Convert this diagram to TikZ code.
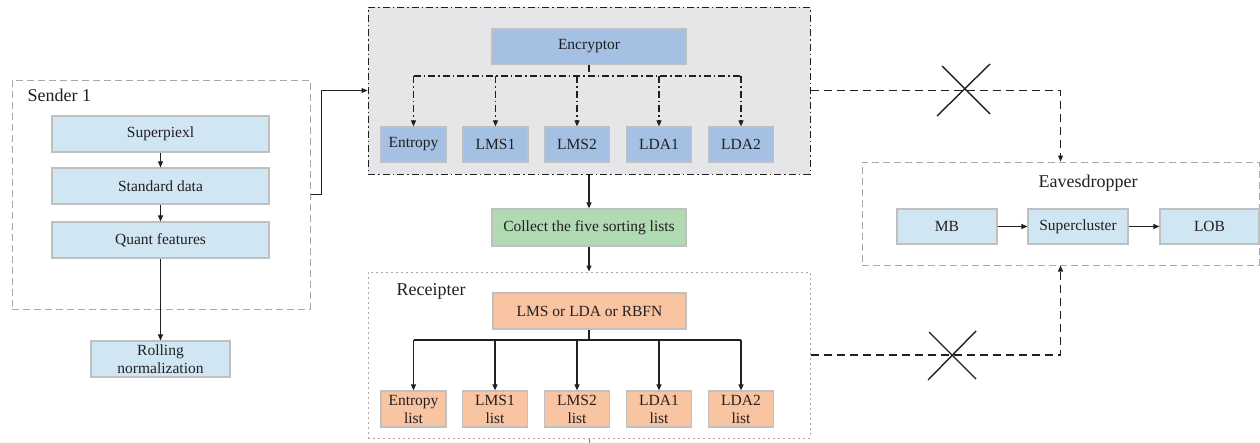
\documentclass[tikz,border=0pt]{standalone}
\usepackage{fontspec}
\setmainfont{Liberation Serif}
\usetikzlibrary{arrows.meta}
\definecolor{lblue}{HTML}{D0E6F2}
\definecolor{mblue}{HTML}{A4C0E2}
\definecolor{lgreen}{HTML}{B0DAB1}
\definecolor{lorange}{HTML}{F9C4A2}
\definecolor{framegray}{HTML}{E6E6E8}
\definecolor{bordergray}{HTML}{C0C0C0}
\definecolor{dashgray}{HTML}{A8A8A8}
\definecolor{txt}{HTML}{231F20}
\begin{document}
\begin{tikzpicture}[x=1pt,y=-1pt,
  every node/.style={text=txt},
  box/.style={draw=bordergray, line width=1.2pt, inner sep=0pt, minimum height=36pt,
     font=\fontsize{15.5}{16}\selectfont, align=center},
  bluebox/.style={box, fill=lblue},
  encbox/.style={box, fill=mblue, minimum height=35pt},
  greenbox/.style={box, fill=lgreen},
  orbox/.style={box, fill=lorange},
  lbl/.style={font=\fontsize{18}{20}\selectfont},
  frame/.style={inner sep=0pt, line width=1pt},
  arr/.style={-{Triangle[length=6pt,width=5pt]}},
  conn/.style={line width=1.1pt, draw=txt},
  dashdotline/.style={conn, dash pattern=on 7pt off 3pt on 1.5pt off 3pt},
  longdash/.style={conn, dash pattern=on 8pt off 5pt}
]
\useasboundingbox (0,0) rectangle (1260,442);

% frames
\node[frame, draw=dashgray, dash pattern=on 7pt off 4pt, minimum width=298pt, minimum height=229pt] (sender) at (161,194.5) {};
\node[frame, draw=txt, fill=framegray, dash pattern=on 7pt off 3pt on 1.5pt off 3pt, minimum width=442pt, minimum height=167pt] (encf) at (589,90.5) {};
\node[frame, draw=dashgray, dash pattern=on 2pt off 3pt, minimum width=442pt, minimum height=166pt] (recf) at (589,355) {};
\node[frame, draw=dashgray, dash pattern=on 7pt off 4pt, minimum width=397pt, minimum height=103pt] (eaves) at (1060.5,213.5) {};

% labels
\node[lbl, anchor=west] (lsender) at (24,95) {Sender 1};
\node[lbl, anchor=west] (lrec) at (393,291) {Receipter};
\node[lbl] (leaves) at (1088,183) {Eavesdropper};

% sender
\node[bluebox, minimum width=217pt] (sp) at (160.5,134) {Superpiexl};
\node[bluebox, minimum width=217pt] (sd) at (160.5,186) {Standard data};
\node[bluebox, minimum width=217pt] (qf) at (160.5,240) {Quant features};
\node[bluebox, minimum width=139pt, font=\fontsize{15.5}{18}\selectfont] (rn) at (160.5,359) {Rolling\\normalization};
\draw[conn,arr] (sp) -- (sd);
\draw[conn,arr] (sd) -- (qf);
\draw[conn,arr] (qf) -- (rn);

% encryptor
\node[encbox, minimum width=194pt] (enc) at (589,46.5) {Encryptor};
\node[encbox, minimum width=65pt] (e1) at (413.5,144.5) {Entropy};
\node[encbox, minimum width=65pt] (e2) at (495.5,144.5) {LMS1};
\node[encbox, minimum width=65pt] (e3) at (577,144.5) {LMS2};
\node[encbox, minimum width=65pt] (e4) at (659,144.5) {LDA1};
\node[encbox, minimum width=65pt] (e5) at (741,144.5) {LDA2};
\coordinate (ebr) at (589,76);
\draw[dashdotline] (enc.south) -- (ebr);
\draw[dashdotline] (e1.north |- ebr) -- (e5.north |- ebr);
\foreach \i in {1,...,5} \draw[dashdotline,arr] (e\i.north |- ebr) -- (e\i.north);

\draw[conn,arr] (sender.east) -- ++(11,0) |- (encf.west);

% collect
\node[greenbox, minimum width=194pt, minimum height=37pt] (col) at (589,227.5) {Collect the five sorting lists};
\draw[conn,arr] (encf.south) -- (col.north);
\draw[conn,arr] (col.south) -- (recf.north);

% receipter
\node[orbox, minimum width=193pt] (rb) at (589.5,311) {LMS or LDA or RBFN};
\node[orbox, minimum width=65pt, font=\fontsize{15.5}{18}\selectfont] (r1) at (413.5,409) {Entropy\\list};
\node[orbox, minimum width=65pt, font=\fontsize{15.5}{18}\selectfont] (r2) at (495,409) {LMS1\\list};
\node[orbox, minimum width=65pt, font=\fontsize{15.5}{18}\selectfont] (r3) at (577,409) {LMS2\\list};
\node[orbox, minimum width=65pt, font=\fontsize{15.5}{18}\selectfont] (r4) at (659,409) {LDA1\\list};
\node[orbox, minimum width=65pt, font=\fontsize{15.5}{18}\selectfont] (r5) at (741,409) {LDA2\\list};
\coordinate (rbr) at (589,340);
\draw[conn] (rb.south -| rbr) -- (rbr);
\draw[conn] (r1.north |- rbr) -- (r5.north |- rbr);
\foreach \i in {1,...,5} \draw[conn,arr] (r\i.north |- rbr) -- (r\i.north);
\draw[draw=blue!60, line width=1pt] (recf.south) -- ++(0,4);

% eavesdropper
\node[bluebox, minimum width=100pt, minimum height=35pt] (mb) at (947,226.5) {MB};
\node[bluebox, minimum width=100pt, minimum height=35pt] (sc) at (1078,226.5) {Supercluster};
\node[bluebox, minimum width=99pt, minimum height=35pt] (lob) at (1209.5,226.5) {LOB};
\draw[conn,arr] (mb) -- (sc);
\draw[conn,arr] (sc) -- (lob);

% intercepted links
\draw[longdash,arr] (encf.east) -| (eaves.north);
\draw[longdash,arr] (recf.east) -| (eaves.south);
\draw[conn, line width=1.4pt] (942,66) -- (990,114);
\draw[conn, line width=1.4pt] (990,64) -- (937,116);
\draw[conn, line width=1.4pt] (929,332) -- (976,379);
\draw[conn, line width=1.4pt] (976,331) -- (928,380);
\end{tikzpicture}
\end{document}
